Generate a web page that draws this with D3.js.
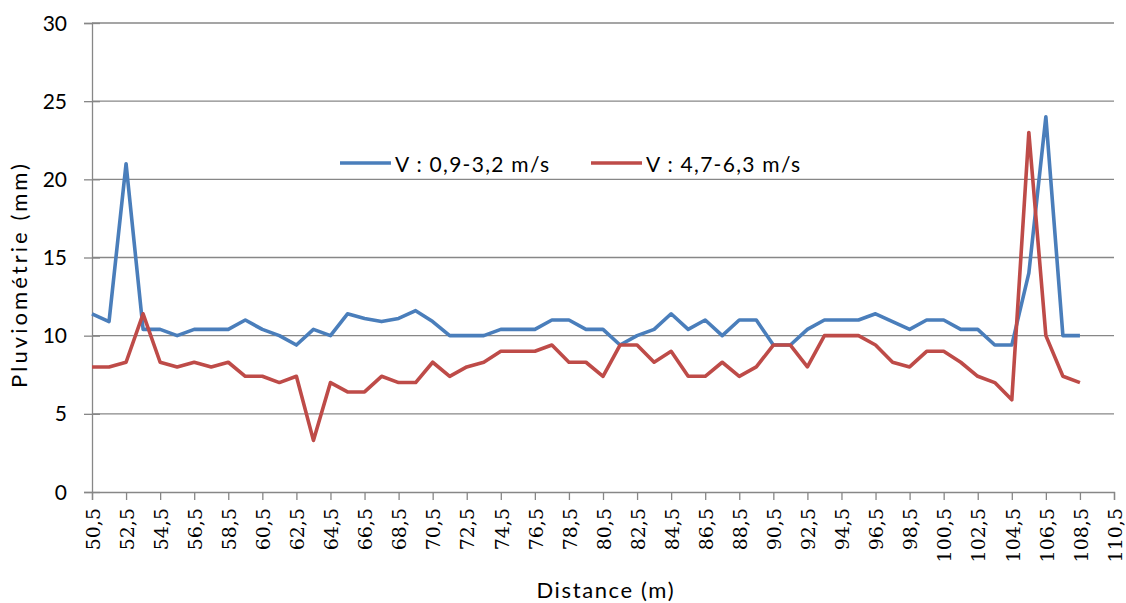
<!DOCTYPE html>
<html>
<head>
<meta charset="utf-8">
<script src="https://cdn.jsdelivr.net/npm/d3@7"></script>
<style>
  html, body { margin: 0; padding: 0; background: #fff; }
  svg { display: block; font-family: Lato, "Open Sans", "Liberation Sans", sans-serif; }
</style>
</head>
<body>
<svg id="chart" width="1126" height="603"></svg>
<script>
// Distance positions (m), one reading per metre
const distances = [50.5, 51.5, 52.5, 53.5, 54.5, 55.5, 56.5, 57.5, 58.5, 59.5,
  60.5, 61.5, 62.5, 63.5, 64.5, 65.5, 66.5, 67.5, 68.5, 69.5,
  70.5, 71.5, 72.5, 73.5, 74.5, 75.5, 76.5, 77.5, 78.5, 79.5,
  80.5, 81.5, 82.5, 83.5, 84.5, 85.5, 86.5, 87.5, 88.5, 89.5,
  90.5, 91.5, 92.5, 93.5, 94.5, 95.5, 96.5, 97.5, 98.5, 99.5,
  100.5, 101.5, 102.5, 103.5, 104.5, 105.5, 106.5, 107.5, 108.5];

// Rainfall (mm), wind 0.9–3.2 m/s
const lowWind = [11.4, 10.9, 21, 10.4, 10.4, 10, 10.4, 10.4, 10.4, 11,
  10.4, 10, 9.4, 10.4, 10, 11.4, 11.1, 10.9, 11.1, 11.6,
  10.9, 10, 10, 10, 10.4, 10.4, 10.4, 11, 11, 10.4,
  10.4, 9.4, 10, 10.4, 11.4, 10.4, 11, 10, 11, 11,
  9.4, 9.4, 10.4, 11, 11, 11, 11.4, 10.9, 10.4, 11,
  11, 10.4, 10.4, 9.4, 9.4, 14, 24, 10, 10];

// Rainfall (mm), wind 4.7–6.3 m/s
const highWind = [8, 8, 8.3, 11.4, 8.3, 8, 8.3, 8, 8.3, 7.4,
  7.4, 7, 7.4, 3.3, 7, 6.4, 6.4, 7.4, 7, 7,
  8.3, 7.4, 8, 8.3, 9, 9, 9, 9.4, 8.3, 8.3,
  7.4, 9.4, 9.4, 8.3, 9, 7.4, 7.4, 8.3, 7.4, 8,
  9.4, 9.4, 8, 10, 10, 10, 9.4, 8.3, 8, 9,
  9, 8.3, 7.4, 7, 5.9, 23, 10, 7.4, 7];

const seriesNames = ["V : 0,9-3,2 m/s", "V : 4,7-6,3 m/s"];
const seriesColors = ["#4a7ebb", "#be4b48"];

const xTicks = d3.range(50.5, 110.6, 2);
const yTicks = [0, 5, 10, 15, 20, 25, 30];
const xTitle = "Distance (m)";
const yTitle = "Pluviométrie (mm)";

const fmt = v => String(v).replace(".", ",");

const svg = d3.select("#chart");
const plot = { left: 92, right: 1114, top: 23, bottom: 492 };
const gridColor = "#878787";

const x = d3.scaleLinear().domain([50.5, 110.5]).range([plot.left, plot.right]);
const y = d3.scaleLinear().domain([0, 30]).range([plot.bottom, plot.top]);

// Horizontal gridlines
svg.append("g")
  .selectAll("line")
  .data(yTicks.filter(t => t > 0))
  .join("line")
  .attr("x1", plot.left).attr("x2", plot.right)
  .attr("y1", d => y(d)).attr("y2", d => y(d))
  .attr("stroke", gridColor).attr("stroke-width", 1.3);

// Y axis (tick marks cross the axis line)
const yAxis = svg.append("g")
  .attr("transform", `translate(${plot.left},0)`)
  .call(d3.axisLeft(y).tickValues(yTicks).tickSize(8).tickPadding(17).tickFormat(d => d));
yAxis.select(".domain").attr("stroke", gridColor).attr("stroke-width", 1.3);
yAxis.selectAll(".tick line").attr("x1", 8).attr("stroke", gridColor).attr("stroke-width", 1.3);
yAxis.selectAll(".tick text")
  .attr("font-size", 21).attr("fill", "#000")
  .attr("dy", "0.34em")
  .style("font-family", "Lato, 'Open Sans', sans-serif");

// X axis with vertical labels
const xAxis = svg.append("g")
  .attr("transform", `translate(0,${plot.bottom})`)
  .call(d3.axisBottom(x).tickValues(xTicks).tickSize(8).tickFormat(fmt));
xAxis.select(".domain").attr("stroke", gridColor).attr("stroke-width", 1.3);
xAxis.selectAll(".tick line").attr("stroke", gridColor).attr("stroke-width", 1.3);
xAxis.selectAll(".tick text")
  .attr("font-size", 19).attr("fill", "#000")
  .style("font-family", "'DejaVu Serif', 'Liberation Serif', serif")
  .attr("text-anchor", "end")
  .attr("dy", "0.38em")
  .attr("transform", "translate(0,16) rotate(-90)")
  .attr("x", 0).attr("y", 0);

// Series lines
const line = d3.line()
  .x((d, i) => x(distances[i]))
  .y(d => y(d));

[lowWind, highWind].forEach((vals, k) => {
  svg.append("path")
    .datum(vals)
    .attr("d", line)
    .attr("fill", "none")
    .attr("stroke", seriesColors[k])
    .attr("stroke-width", 3.6)
    .attr("stroke-linejoin", "round");
});

// Legend
const legendX = [340, 591];
const legendY = 163;
seriesNames.forEach((name, k) => {
  const g = svg.append("g");
  g.append("line")
    .attr("x1", legendX[k]).attr("x2", legendX[k] + 51)
    .attr("y1", legendY).attr("y2", legendY)
    .attr("stroke", seriesColors[k]).attr("stroke-width", 3.6);
  g.append("text")
    .attr("x", legendX[k] + 55).attr("y", legendY + 8.5)
    .attr("font-size", 21).attr("fill", "#000")
    .attr("textLength", 154).attr("lengthAdjust", "spacing")
    .text(name);
});

// Axis titles
svg.append("text")
  .attr("x", 605).attr("y", 598)
  .attr("text-anchor", "middle")
  .attr("font-size", 22)
  .attr("textLength", 137).attr("lengthAdjust", "spacing")
  .text(xTitle);

svg.append("text")
  .attr("transform", "translate(27,276) rotate(-90)")
  .attr("text-anchor", "middle")
  .attr("font-size", 22)
  .attr("textLength", 224).attr("lengthAdjust", "spacing")
  .text(yTitle);
</script>
</body>
</html>
